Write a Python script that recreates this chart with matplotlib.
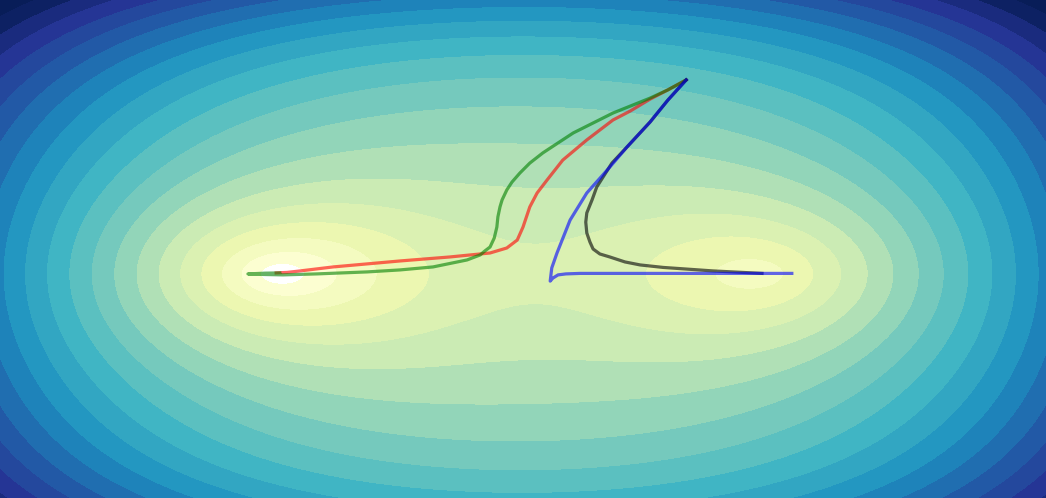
import numpy as np
import matplotlib
matplotlib.use("Agg")
import matplotlib.pyplot as plt

# surface: smooth bowl plus two log wells, fitted to the band edges of the reference
poly_coef = [9.7239, -0.0791, 1.3366, -2.5883, 5.0506, 6.0853, 6.9253, -0.871]  # 1, x, x2, y2, x4, y4, x2y2, r6
well_x = [-0.47, 0.461]
well_core = 0.002
well_halo = [0.09, 0.3]
well_coef = [[-4.6833, 5.5132], [-4.7424, 5.0893]]  # per well: narrow halo, wide halo
levels = np.arange(0, 20)

# optimizer paths
red_x = [0.312, 0.277, 0.243, 0.205, 0.172, 0.122, 0.076, 0.046, 0.027, 0.013, 0.0,
         -0.011, -0.031, -0.063, -0.140, -0.235, -0.363, -0.426, -0.451, -0.472]
red_y = [0.779, 0.739, 0.702, 0.654, 0.618, 0.538, 0.457, 0.377, 0.325, 0.269, 0.188,
         0.136, 0.104, 0.084, 0.068, 0.052, 0.028, 0.012, 0.006, 0.004]
green_x = [0.312, 0.277, 0.243, 0.172, 0.096, 0.038, 0.013, -0.006, -0.021, -0.031,
           -0.040, -0.044, -0.048, -0.050, -0.055, -0.063, -0.073, -0.082, -0.107,
           -0.172, -0.235, -0.298, -0.394, -0.459, -0.503, -0.526, -0.493, -0.465]
green_y = [0.779, 0.739, 0.706, 0.646, 0.566, 0.486, 0.445, 0.405, 0.369, 0.337,
           0.297, 0.269, 0.229, 0.188, 0.144, 0.108, 0.092, 0.076, 0.056,
           0.028, 0.016, 0.008, 0.000, -0.004, -0.002, 0.000, 0.003, 0.004]
black_x = [0.312, 0.277, 0.243, 0.199, 0.170, 0.141, 0.132, 0.122, 0.120, 0.122,
           0.128, 0.134, 0.147, 0.166, 0.195, 0.224, 0.268, 0.363, 0.457]
black_y = [0.779, 0.698, 0.610, 0.510, 0.445, 0.349, 0.297, 0.245, 0.208, 0.164,
           0.128, 0.100, 0.080, 0.068, 0.048, 0.036, 0.026, 0.012, 0.002]
blue_x = [0.312, 0.277, 0.243, 0.199, 0.161, 0.122, 0.090, 0.065, 0.055, 0.052,
          0.057, 0.067, 0.082, 0.109, 0.224, 0.338, 0.514]
blue_y = [0.779, 0.698, 0.610, 0.510, 0.417, 0.325, 0.216, 0.084, 0.024, -0.029,
          -0.017, -0.004, 0.000, 0.002, 0.002, 0.002, 0.002]


def surface(x, y):
    terms = [np.ones_like(x), x, x**2, y**2, x**4, y**4, x**2 * y**2, (x**2 + y**2)**3]
    z = sum(c * t for c, t in zip(poly_coef, terms))
    for wx, wc in zip(well_x, well_coef):
        d = (x - wx)**2 + y**2
        for halo, c in zip(well_halo, wc):
            z += c * np.log((d + well_core) / (d + halo))
    return z


fig = plt.figure(figsize=(10.46, 4.98), dpi=100)
ax = fig.add_axes([0, 0, 1, 1])
X, Y = np.meshgrid(np.linspace(-1, 1, 700), np.linspace(-0.9, 1.1, 500))
ax.contourf(X, Y, surface(X, Y), levels=levels, cmap="YlGnBu", extend="max")

for px, py, c in [(red_x, red_y, "r"), (green_x, green_y, "g"),
                  (black_x, black_y, "k"), (blue_x, blue_y, "b")]:
    ax.plot(px, py, color=c, alpha=0.6, lw=2.3)

ax.set_xlim(-1, 1)
ax.set_ylim(-0.9, 1.1)
ax.axis("off")
fig.savefig("out.png", dpi=100)
plt.close(fig)
